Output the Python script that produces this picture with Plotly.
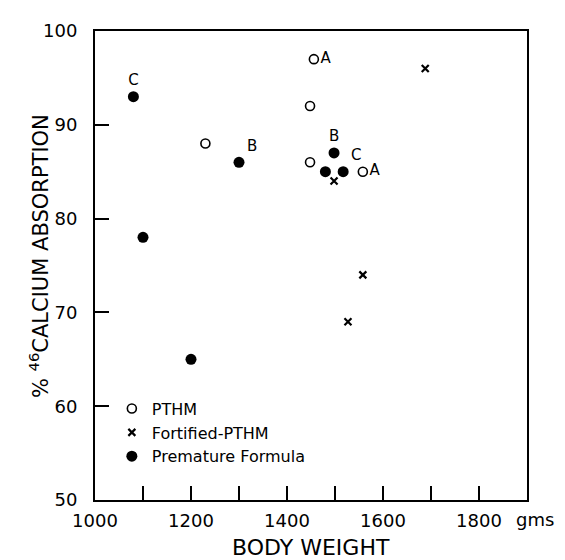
import plotly.graph_objects as go

# ---- data ----
pthm_weight = [1456, 1448, 1230, 1448, 1558]
pthm_absorb = [97, 92, 88, 86, 85]
pthm_labels = ["A", "", "", "", "A"]
pthm_labelpos = ["middle right"] * 5

fort_weight = [1688, 1498, 1558, 1527]
fort_absorb = [96, 84, 74, 69]

prem_weight = [1080, 1300, 1100, 1200, 1498, 1480, 1517]
prem_absorb = [93, 86, 78, 65, 87, 85, 85]
prem_labels = ["C", "B", "", "", "B", "", "C"]
prem_labelpos = ["top center", "top right", "top center", "top center", "top center", "top center", "top right"]

x_tickvals = [1000, 1100, 1200, 1300, 1400, 1500, 1600, 1700, 1800]
x_ticktext = ["1000", "", "1200", "", "1400", "", "1600", "", "1800"]
y_tickvals = [50, 60, 70, 80, 90, 100]
y_ticktext = ["50", "60", "70", "80", "90", "100"]

FONT = "DejaVu Sans, Liberation Sans, sans-serif"

fig = go.Figure()
fig.add_trace(go.Scatter(
    x=pthm_weight, y=pthm_absorb, mode="markers+text", name="PTHM",
    text=pthm_labels, textposition=pthm_labelpos,
    textfont=dict(size=15, color="black", family=FONT),
    marker=dict(symbol="circle-open", size=9, color="black", line=dict(width=1.6, color="black")),
))
fig.add_trace(go.Scatter(
    x=fort_weight, y=fort_absorb, mode="markers", name="Fortified-PTHM",
    marker=dict(symbol="x-thin", size=7, color="black", line=dict(width=2.2, color="black")),
))
fig.add_trace(go.Scatter(
    x=prem_weight, y=prem_absorb, mode="markers+text", name="Premature Formula",
    text=prem_labels, textposition=prem_labelpos,
    textfont=dict(size=15, color="black", family=FONT),
    marker=dict(symbol="circle", size=11, color="black"),
))

fig.update_xaxes(
    range=[1000, 1900], tickvals=x_tickvals, ticktext=x_ticktext,
    ticks="inside", ticklen=14, tickwidth=2, tickcolor="black",
    showline=True, linewidth=2, linecolor="black", mirror=True,
    showgrid=False, zeroline=False,
    tickfont=dict(size=18, color="black", family=FONT), ticklabelstandoff=3,
)
fig.update_yaxes(
    range=[50, 100], tickvals=y_tickvals, ticktext=y_ticktext,
    ticks="inside", ticklen=14, tickwidth=2, tickcolor="black",
    showline=True, linewidth=2, linecolor="black", mirror=True,
    showgrid=False, zeroline=False,
    tickfont=dict(size=18, color="black", family=FONT), ticklabelstandoff=12,
)

fig.add_annotation(text="% <sup>46</sup>CALCIUM ABSORPTION", xref="paper", yref="paper",
                   x=-0.131, y=0.521, xanchor="center", yanchor="middle",
                   textangle=-90, showarrow=False,
                   font=dict(size=21, color="black", family=FONT))
fig.add_annotation(text="BODY WEIGHT", xref="paper", yref="paper",
                   x=0.5, y=-0.102, xanchor="center", yanchor="middle", showarrow=False,
                   font=dict(size=22, color="black", family=FONT))
fig.add_annotation(text="gms", xref="paper", yref="paper",
                   x=1.0185, y=-0.0417, xanchor="center", yanchor="middle", showarrow=False,
                   font=dict(size=18, color="black", family=FONT))

fig.update_layout(
    width=557, height=552,
    margin=dict(l=87, r=38, t=12, b=60),
    paper_bgcolor="white", plot_bgcolor="white",
    showlegend=True,
    legend=dict(x=0.039, y=0.231, xanchor="left", yanchor="top",
                bgcolor="rgba(0,0,0,0)", font=dict(size=16, color="black", family=FONT),
                tracegroupgap=0, itemsizing="trace"),
)

fig.write_html("out.html")
